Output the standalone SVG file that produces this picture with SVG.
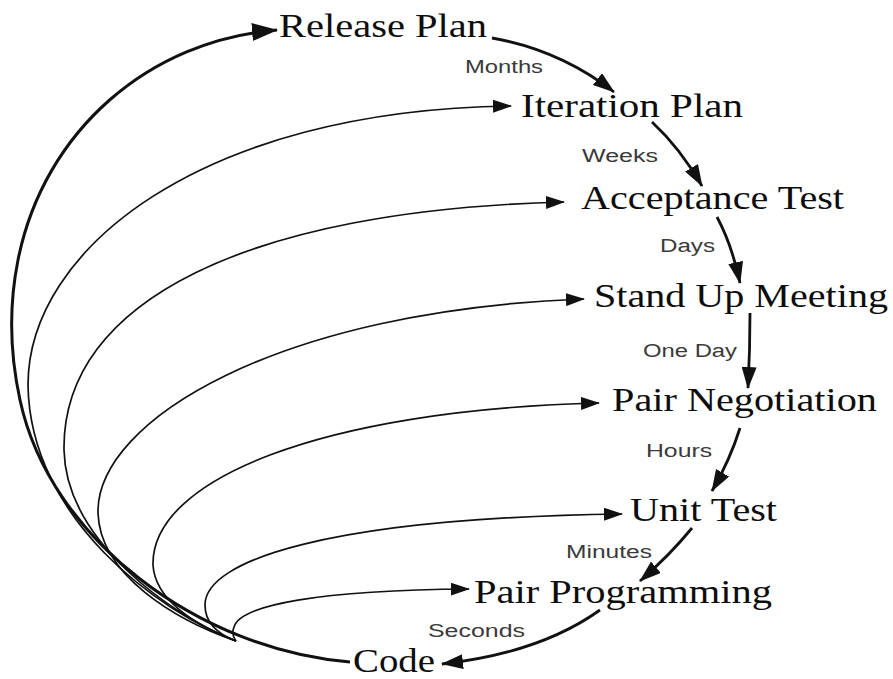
<svg xmlns="http://www.w3.org/2000/svg" width="893" height="679" viewBox="0 0 893 679">
  <style>
    .step { font-family: "Liberation Serif", "Times New Roman", serif; font-size: 33px; fill: #0d0d0d; }
    .cadence { font-family: "Liberation Sans", Arial, sans-serif; font-size: 18px; fill: #3a3a3a; }
    .flow { fill: none; stroke: #111; stroke-width: 2.8; }
    .loop { fill: none; stroke: #111; stroke-width: 1.7; }
    .outer { fill: none; stroke: #111; stroke-width: 3; }
  </style>
  <defs>
    <marker id="headBig" markerUnits="userSpaceOnUse" viewBox="0 0 26 18" refX="25" refY="9" markerWidth="26" markerHeight="18" orient="auto">
      <path d="M0,0 L26,9 L0,18 Z" fill="#111"/>
    </marker>
    <marker id="headMid" markerUnits="userSpaceOnUse" viewBox="0 0 22 15" refX="21" refY="7.5" markerWidth="22" markerHeight="15" orient="auto">
      <path d="M0,0 L22,7.5 L0,15 Z" fill="#111"/>
    </marker>
    <marker id="headSmall" markerUnits="userSpaceOnUse" viewBox="0 0 19 13" refX="18" refY="6.5" markerWidth="19" markerHeight="13" orient="auto">
      <path d="M0,0 L19,6.5 L0,13 Z" fill="#111"/>
    </marker>
  </defs>
  <rect width="893" height="679" fill="#fff"/>

  <g id="connectors">
    <!-- outer loop: Code back to Release Plan -->
    <path class="outer" marker-end="url(#headBig)" d="M350,662 C200,650 50,540 20,400 C8,345 10,300 18,260 C44,130 150,40 277,30"/>

    <!-- feedback loops fanning out from the outer curve -->
    <path class="loop" marker-end="url(#headSmall)" d="M236,641 C160,612 30,520 28,385 C28,250 200,110 511,106"/>
    <path class="loop" marker-end="url(#headSmall)" d="M236,641 C170,615 66,540 64,450 C62,300 250,210 564,202"/>
    <path class="loop" marker-end="url(#headSmall)" d="M236,641 C175,620 100,575 98,513 C96,420 280,310 584,299"/>
    <path class="loop" marker-end="url(#headSmall)" d="M236,641 C195,625 155,600 153,565 C151,480 320,410 599,403"/>
    <path class="loop" marker-end="url(#headSmall)" d="M236,641 C215,633 205,620 205,605 C205,560 330,518 622,514"/>
    <path class="loop" marker-end="url(#headSmall)" d="M236,641 C232,636 232,632 234,627 C240,605 320,590 469,589"/>

    <!-- downward cadence arrows -->
    <path class="flow" marker-end="url(#headMid)" d="M492,38 Q560,50 614,92"/>
    <path class="flow" marker-end="url(#headMid)" d="M652,122 Q680,148 702,186"/>
    <path class="flow" marker-end="url(#headMid)" d="M717,217 Q732,245 740,283"/>
    <path class="flow" marker-end="url(#headMid)" d="M750,313 Q750,350 748,388"/>
    <path class="flow" marker-end="url(#headMid)" d="M740,428 Q730,460 712,491"/>
    <path class="flow" marker-end="url(#headMid)" d="M692,528 Q670,555 640,581"/>
    <path class="flow" marker-end="url(#headMid)" d="M600,610 Q540,653 442,664"/>
  </g>

  <g id="release-plan"><text class="step" x="279" y="37" textLength="208" lengthAdjust="spacingAndGlyphs">Release Plan</text></g>
  <g id="iteration-plan"><text class="step" x="521" y="117" textLength="222" lengthAdjust="spacingAndGlyphs">Iteration Plan</text></g>
  <g id="acceptance-test"><text class="step" x="581" y="209" textLength="263" lengthAdjust="spacingAndGlyphs">Acceptance Test</text></g>
  <g id="stand-up-meeting"><text class="step" x="594" y="307" textLength="294" lengthAdjust="spacingAndGlyphs">Stand Up Meeting</text></g>
  <g id="pair-negotiation"><text class="step" x="612" y="411" textLength="265" lengthAdjust="spacingAndGlyphs">Pair Negotiation</text></g>
  <g id="unit-test"><text class="step" x="630" y="521" textLength="147" lengthAdjust="spacingAndGlyphs">Unit Test</text></g>
  <g id="pair-programming"><text class="step" x="474" y="603" textLength="298" lengthAdjust="spacingAndGlyphs">Pair Programming</text></g>
  <g id="code"><text class="step" x="353" y="672" textLength="82" lengthAdjust="spacingAndGlyphs">Code</text></g>

  <g id="cadence-labels">
    <text class="cadence" x="465" y="73" textLength="78" lengthAdjust="spacingAndGlyphs">Months</text>
    <text class="cadence" x="582" y="162" textLength="76" lengthAdjust="spacingAndGlyphs">Weeks</text>
    <text class="cadence" x="660" y="252" textLength="55" lengthAdjust="spacingAndGlyphs">Days</text>
    <text class="cadence" x="643" y="357" textLength="94" lengthAdjust="spacingAndGlyphs">One Day</text>
    <text class="cadence" x="646" y="457" textLength="66" lengthAdjust="spacingAndGlyphs">Hours</text>
    <text class="cadence" x="566" y="558" textLength="86" lengthAdjust="spacingAndGlyphs">Minutes</text>
    <text class="cadence" x="428" y="637" textLength="97" lengthAdjust="spacingAndGlyphs">Seconds</text>
  </g>
</svg>
